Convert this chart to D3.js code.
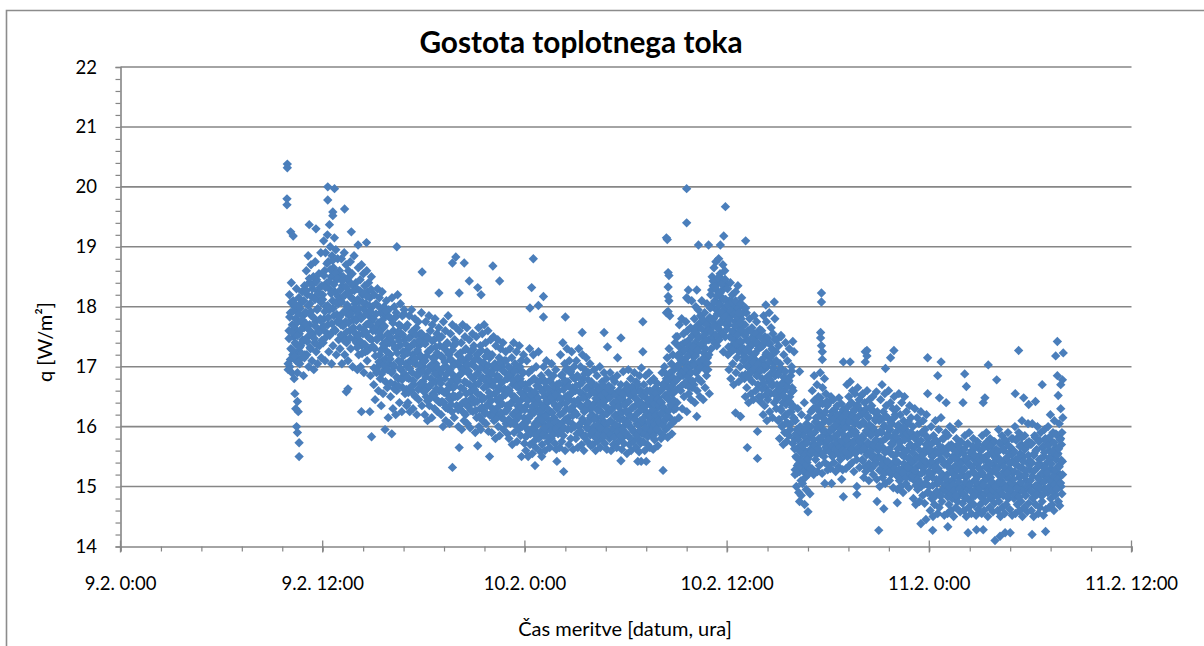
<!DOCTYPE html>
<html><head><meta charset="utf-8">
<script src="https://cdnjs.cloudflare.com/ajax/libs/d3/7.8.5/d3.min.js"></script>
<style>html,body{margin:0;padding:0;background:#fff;overflow:hidden}svg{display:block}text{font-family:Lato,sans-serif;fill:#000}</style>
</head><body><svg id="c" width="1204" height="646"></svg>
<script>
const titleText="Gostota toplotnega toka";
const xTitle="Čas meritve [datum, ura]";
const yTitle="q [W/m²]";
const yTicks=[14,15,16,17,18,19,20,21,22];
const xTicks=[0,12,24,36,48,60];
const xTickLabels=["9.2. 0:00","9.2. 12:00","10.2. 0:00","10.2. 12:00","11.2. 0:00","11.2. 12:00"];
const firstHour=10, lastHour=55.95;
// isolated readings: hours since 9.2. 0:00, and q
const soloT=[9.9,9.9,9.88,9.88,10.1,10.25,12.3,12.7,12.3,13.3,12.6,12.6,11.2,11.6,12.4,13.7,14.6,14.1,16.4,17.9,19.9,19.7,20.4,22.1,24.5,22.5,20.7,18.9,20.1,21.2,21.4,24.4,25.1,24.3,24.8,26.4,25.1,10.6,10.6,10.5,10.45,10.55,10.4,10.5,10.35,14.9,16.1,15.7,19.7,21.9,20.1,21.2,23.8,24.6,25,25.9,26.3,13.4,13.5,14.3,14.8,33.6,35.9,33.6,32.4,32.45,35.8,37.1,34.3,34.9,35.6,32.5,32.55,32.5,32.5,32.55,32.5,32.6,32.4,33.7,34.2,33.6,33.7,33.9,38.8,38.3,37.1,36.7,41.6,41.6,41.55,41.55,41.6,41.65,41.65,31,27.4,28.7,29.7,28.9,29.5,31,39.9,39.2,32.2,30.7,30.9,31.2,29.7,37.2,37.8,34.2,36.5,36.8,37.8,40.3,40.8,40.4,40.6,41.8,42.2,42.8,42.9,43.7,43.7,40.3,42.9,43.3,44.2,44.2,55.6,55.95,55.5,53.3,47.9,48.7,51.5,48.5,50.1,45.9,45.7,44.3,44.3,45.4,52,50.2,54.7,55.6,55.9,55.8,55.65,55.8,53.1,53.6,53.9,54.3,47.9,48.6,49,50,51.3,51.2,45,51.9,52.2,54.1,48.2,50.3,50.8,51.2,52.5,52.8,54.9,47.5,47.8,49.1,46.1,45.3,44.9,9.95,9.95];
const soloQ=[20.38,20.32,19.8,19.7,19.25,19.18,20,19.97,19.78,19.63,19.58,19.52,19.37,19.3,19.37,19.25,19.07,19.03,19,18.58,18.83,18.73,18.73,18.68,18.8,18.43,18.43,18.23,18.23,18.32,18.2,18.32,18.17,17.98,18.02,17.83,17.83,15.5,15.73,15.9,16.0,16.25,16.3,16.42,16.55,15.83,15.88,15.95,15.32,15.5,15.65,15.68,15.5,15.35,15.5,15.42,15.25,16.58,16.63,16.25,16.25,19.97,19.67,19.4,19.15,19.12,19.18,19.1,19.03,19.03,19.03,18.57,18.52,18.33,18.17,18.1,17.92,17.85,17.9,18.28,18.28,18.15,18.12,18.1,18.08,18.03,17.98,17.9,18.23,18.08,17.57,17.48,17.35,17.25,17.12,17.75,17.57,17.57,17.48,17.33,17.15,17.25,17.42,17.52,15.27,15.42,15.42,15.42,15.43,15.65,15.47,16.17,16.23,16.17,15.92,14.75,14.58,14.85,14.7,15.05,15.05,15.12,14.83,15,14.87,16.92,17.08,17.08,17.25,17.08,17.42,17.23,17.18,17.27,17.15,17.08,17.03,16.85,16.88,17.27,17.15,17.27,17.18,16.97,16.78,16.67,16.7,16.85,16.78,16.7,16.52,16.3,16.55,16.48,16.37,16.42,16.55,16.48,16.4,16.4,16.48,16.4,14.27,14.1,14.17,14.2,14.27,14.23,14.28,14.28,14.23,14.23,14.25,14.38,14.45,14.33,14.73,14.63,14.75,17.05,16.95];
// body of the cloud, one list per hour, in time order
const h10=[17.6,18.2,17.0,17.9,17.3,18.4,16.9,17.7,17.2,18.1,17.5,16.8,18.0,17.4,17.8,17.1,18.3,17.6,16.9,17.95,17.25,18.15,17.55,17.05,18.05,17.35,17.75,17.15,18.25,17.45,17.85,16.85,17.65,18.35,17.2,17.9];
const h11=[17.9,18.6,17.2,18.2,17.5,18.85,17.0,18.4,17.7,18.05,17.3,18.7,17.85,17.1,18.3,17.55,18.5,16.95,18.15,17.4,18.75,17.75,17.25,18.45,17.95,17.05,18.25,17.6,18.55,17.35,18.1,17.8,18.9,17.15,18.35,17.65];
const h12=[18.2,17.4,19.1,17.8,18.6,17.1,18.9,18.0,17.5,18.4,19.2,17.7,18.75,17.25,18.3,17.95,19.0,17.55,18.5,17.05,18.85,18.1,17.35,18.65,17.85,19.15,18.25,17.6,18.95,17.2,18.45,17.75,18.8,18.05,17.45,18.55];
const h13=[18.6,17.3,18.1,17.7,18.8,17.05,18.35,17.9,18.5,17.5,18.9,17.2,18.2,17.75,18.7,17.4,18.0,18.45,17.1,18.6,17.85,18.25,17.6,18.75,17.3,18.15,17.95,18.55,17.0,18.35,17.65,18.85,17.45,18.05,17.8,18.4];
const h14=[17.4,18.3,16.95,17.9,18.65,17.2,18.1,17.65,18.45,17.0,17.8,18.7,17.35,18.2,17.55,18.55,16.9,17.95,18.35,17.25,18.05,17.7,18.6,17.1,18.25,17.5,18.4,17.85,17.3,18.15,16.85,17.75,18.5,17.45,18.0,17.6];
const h15=[17.8,16.7,18.2,17.3,16.45,17.6,18.05,16.9,17.45,18.3,17.0,16.6,17.7,18.15,17.2,16.8,17.9,16.35,17.5,18.25,17.1,16.55,17.65,18.0,16.95,17.35,16.75,17.85,18.1,17.25,16.65,17.55,16.15,17.95,17.05,17.4];
const h16=[17.2,16.5,17.8,16.9,18.15,17.4,16.3,17.6,17.0,18.0,16.7,17.3,16.2,17.9,16.6,17.5,18.2,16.8,17.1,17.7,16.4,17.35,18.05,16.95,17.55,16.25,17.85,16.65,17.25,16.85,17.95,17.45,16.55,17.65,17.05,16.35];
const h17=[17.0,17.7,16.4,17.3,16.8,17.85,16.25,17.1,17.5,16.6,17.95,16.9,17.2,16.3,17.6,16.7,17.4,17.8,16.5,17.05,17.65,16.2,17.25,16.85,17.75,16.45,17.35,16.95,17.55,16.65,17.15,17.9,16.35,17.45,16.75,17.0];
const h18=[16.7,17.4,16.2,17.1,17.75,16.5,16.9,17.5,16.1,17.25,16.65,17.85,16.35,17.0,17.6,16.8,17.3,16.15,17.7,16.55,17.15,16.95,17.45,16.3,17.8,16.75,17.05,16.45,17.55,16.25,17.2,16.85,17.65,16.6,17.35,16.4];
const h19=[16.9,16.2,17.5,16.6,17.15,16.0,17.75,16.4,17.3,16.8,17.6,16.1,17.0,16.55,17.4,16.3,17.85,16.7,17.2,16.05,16.95,17.55,16.45,17.1,16.25,17.7,16.65,17.35,16.85,16.15,17.45,16.5,17.05,17.65,16.35,16.75];
const h20=[16.5,17.2,16.0,16.85,17.6,16.3,17.0,16.65,17.4,15.95,16.95,17.7,16.4,17.1,16.1,16.75,17.5,16.2,17.3,16.55,17.65,16.05,16.9,17.15,16.35,17.45,16.7,15.98,17.25,16.45,17.05,16.6,17.55,16.25,16.8,17.35];
const h21=[16.4,17.0,15.9,16.7,17.5,16.15,17.2,16.55,16.9,17.65,16.0,17.1,16.3,17.35,15.95,16.8,16.45,17.55,16.1,17.05,16.65,17.7,16.25,16.95,17.4,16.05,16.75,17.25,16.35,17.6,15.92,16.85,16.5,17.15,16.2,17.45];
const h22=[16.7,15.9,17.2,16.3,16.95,17.5,16.1,16.55,17.05,15.8,17.35,16.45,16.85,16.2,17.45,16.0,16.65,17.15,15.85,16.4,17.3,16.75,16.15,17.0,16.5,17.4,15.95,16.6,17.1,16.25,16.9,17.25,16.05,16.8,16.35,15.88];
const h23=[16.3,17.0,15.8,16.6,17.3,16.05,16.85,16.4,17.15,15.7,16.7,16.2,17.4,15.9,16.5,17.05,16.1,16.75,17.25,15.75,16.35,16.95,15.95,16.65,17.35,16.25,16.8,15.85,17.1,16.45,16.0,16.9,16.55,17.2,16.15,15.72];
const h24=[16.0,16.7,15.6,16.35,17.1,15.85,16.5,15.5,16.9,16.15,17.3,15.7,16.6,16.25,15.95,16.95,15.55,16.45,17.2,15.75,16.8,16.05,16.55,15.65,17.0,16.3,15.9,16.75,16.1,17.25,15.8,16.4,16.65,15.58,16.2,16.85];
const h25=[16.3,15.7,16.8,16.05,17.0,15.85,16.5,15.6,16.65,16.2,17.1,15.95,16.4,15.75,16.9,16.1,16.55,15.65,16.75,16.25,15.8,17.05,16.0,16.45,15.9,16.85,16.15,16.6,15.72,16.35,16.95,15.62,16.7,16.08,16.48,15.88];
const h26=[15.9,16.6,15.65,16.2,17.2,16.0,16.85,15.75,16.4,17.4,15.85,16.7,16.1,17.05,15.6,16.5,16.95,16.3,17.3,15.95,16.75,16.15,15.7,17.1,16.45,16.9,15.8,16.55,17.25,16.05,16.65,15.62,16.35,17.0,16.25,16.8];
const h27=[16.6,15.8,17.1,16.2,16.85,15.65,16.45,17.3,16.0,16.7,15.9,17.0,16.35,15.7,16.55,17.2,16.1,16.8,15.6,16.25,16.95,15.85,16.5,17.15,16.05,16.65,15.75,16.4,16.9,15.95,16.3,17.05,16.15,15.68,16.75,16.6];
const h28=[16.2,15.7,16.7,16.0,16.95,15.85,16.4,15.6,16.55,16.15,16.85,15.75,16.3,15.95,16.65,16.05,17.0,15.65,16.45,16.25,15.8,16.75,16.1,16.5,15.9,16.9,16.35,15.72,16.6,16.02,16.8,15.62,16.22,16.48,15.88,16.68];
const h29=[16.5,15.8,16.9,16.1,15.6,16.65,16.3,15.95,16.8,15.7,16.4,16.05,16.75,15.85,16.2,16.55,15.65,16.85,16.15,16.45,15.75,16.6,16.0,16.35,15.9,16.7,16.25,15.62,16.5,15.82,16.92,16.12,15.72,16.42,16.02,16.62];
const h30=[16.1,16.7,15.55,16.4,15.85,16.95,16.2,15.7,16.55,16.0,16.8,15.6,16.3,15.95,16.65,16.15,15.75,16.5,16.9,15.9,16.35,15.65,16.75,16.05,16.45,15.8,16.6,16.25,15.58,16.85,16.1,15.72,16.4,16.98,15.88,16.52];
const h31=[16.3,15.75,16.7,16.05,15.6,16.5,16.85,15.9,16.2,16.6,15.7,16.4,15.95,16.9,16.15,15.65,16.75,16.0,16.35,15.85,16.55,16.25,15.62,16.8,16.1,15.78,16.45,16.65,15.92,16.3,16.02,16.72,15.68,16.48,16.18,16.58];
const h32=[16.2,15.9,16.6,15.8,16.4,16.9,16.05,16.7,15.85,16.3,17.0,16.1,16.5,15.95,16.8,16.25,17.15,15.82,16.65,16.0,17.3,16.45,16.15,16.85,16.35,17.05,15.88,16.55,17.2,16.75,16.28,16.95,16.1,17.4,16.6,17.5];
const h33=[17.0,16.4,17.5,16.8,17.2,16.15,17.7,16.95,17.35,16.6,17.1,17.8,16.3,17.25,16.85,17.55,16.5,17.05,17.4,16.7,17.75,17.15,16.25,17.6,16.9,17.3,16.55,17.45,17.0,16.75,17.65,16.45,17.2,16.65,17.52,17.08];
const h34=[17.2,16.7,17.8,16.4,17.4,18.0,16.9,17.55,16.6,17.25,17.95,16.8,17.65,17.05,16.5,17.85,17.35,16.75,18.1,17.1,17.5,16.45,17.75,17.0,17.9,16.65,17.3,17.6,16.85,18.05,17.15,16.95,17.7,17.45,16.55,17.82];
const h35=[17.6,18.2,17.3,18.0,18.5,17.5,18.35,17.8,18.65,17.4,18.1,17.7,18.75,17.95,17.35,18.4,17.65,18.25,18.8,17.45,18.05,18.55,17.75,18.15,17.55,18.45,17.85,18.7,17.25,18.3,17.9,18.6,17.5,18.12,17.72,18.38];
const h36=[17.9,18.3,17.2,17.7,16.95,18.1,17.5,18.4,16.8,17.85,17.35,18.2,17.05,17.6,16.7,18.0,17.45,17.75,18.25,16.9,17.55,17.15,17.95,18.35,17.3,16.75,17.65,18.05,17.0,17.4,17.8,18.15,16.85,17.25,17.7,17.1];
const h37=[17.3,16.8,17.7,16.5,17.15,17.9,16.65,17.45,17.0,17.6,16.4,17.25,17.8,16.9,17.35,16.55,17.05,17.65,16.75,17.5,16.45,17.2,17.85,16.95,17.4,16.6,17.1,17.75,16.85,17.55,16.7,17.3,16.5,17.0,17.62,16.42];
const h38=[17.1,16.5,17.6,16.8,17.35,16.2,17.85,16.95,16.35,17.5,16.65,17.2,17.75,16.1,17.0,16.45,17.4,16.75,17.9,16.25,17.15,16.55,17.65,16.9,17.3,16.15,17.55,16.7,17.05,16.4,17.8,16.85,17.25,16.3,17.45,16.6];
const h39=[16.9,16.1,17.35,16.55,15.8,17.05,16.3,17.5,16.7,16.0,16.95,16.4,15.7,17.2,16.6,15.9,16.8,17.4,16.2,15.75,16.45,17.1,16.05,16.75,15.85,17.3,16.5,15.95,16.85,16.25,17.0,16.65,15.72,16.35,16.15,17.25];
const h40=[15.8,15.2,16.1,15.5,15.0,15.95,15.35,16.3,15.65,14.9,15.85,15.25,16.0,15.45,15.1,16.2,15.7,15.05,15.55,15.9,15.3,16.4,15.6,15.15,15.75,14.95,16.05,15.4,15.2,16.15,15.5,15.82,15.28,14.88,15.62,16.25];
const h41=[16.0,15.3,16.6,15.7,16.3,15.2,16.85,15.9,16.45,15.45,16.15,15.6,16.7,15.25,16.05,16.5,15.8,15.35,16.25,16.9,15.55,16.4,15.95,15.22,16.65,15.75,16.2,15.5,16.8,15.4,16.1,16.55,15.65,15.85,16.35,15.28];
const h42=[15.9,15.35,16.4,15.65,16.1,15.3,16.5,15.8,16.25,15.5,15.95,16.45,15.4,16.0,15.7,16.3,15.25,16.15,15.85,16.35,15.55,16.05,15.33,16.48,15.75,16.2,15.45,15.92,16.38,15.62,16.02,15.28,16.28,15.72,16.12,15.52];
const h43=[15.7,16.3,15.3,16.0,16.7,15.5,16.2,15.85,16.5,15.35,16.1,16.75,15.6,15.95,16.4,15.4,16.6,15.75,16.25,15.25,16.05,16.55,15.55,15.9,16.35,15.45,16.15,16.65,15.65,15.8,16.45,15.32,16.02,16.28,15.72,16.52];
const h44=[16.2,15.45,16.55,15.8,15.15,16.05,16.4,15.6,15.25,16.3,15.9,16.6,15.35,15.7,16.15,15.1,16.45,15.55,16.0,15.85,15.3,16.35,15.65,16.5,15.2,15.95,16.25,15.5,15.75,16.1,15.4,16.58,15.12,15.88,16.18,15.62];
const h45=[15.5,16.1,15.0,15.75,16.45,15.3,15.9,16.7,15.15,15.65,16.25,15.45,16.0,16.55,15.05,15.8,16.35,15.25,15.6,16.15,15.4,16.6,15.85,15.1,15.95,16.4,15.55,15.2,16.05,15.7,16.3,14.98,15.35,16.5,15.78,16.2];
const h46=[15.9,15.2,16.3,15.55,14.95,16.0,15.4,16.55,15.1,15.75,16.2,15.0,15.65,16.4,15.3,15.85,14.9,16.1,15.5,16.5,15.25,15.95,15.05,16.25,15.6,15.35,16.05,15.8,14.98,15.45,16.35,15.15,15.7,16.15,15.28,15.88];
const h47=[15.4,16.0,14.8,15.65,15.1,16.3,15.3,14.7,15.85,15.5,16.15,14.95,15.75,15.2,16.05,14.75,15.6,15.35,16.25,15.0,15.9,15.45,14.85,16.1,15.55,15.25,14.72,15.95,15.05,15.7,16.2,15.38,14.9,15.8,15.15,15.58];
const h48=[15.0,15.7,14.6,15.35,16.0,14.8,15.5,15.15,14.5,15.85,15.25,14.7,15.6,16.1,14.9,15.4,15.05,15.75,14.55,15.3,15.95,14.65,15.55,15.1,14.85,16.15,15.45,14.75,15.65,15.2,14.95,15.8,14.52,15.38,15.02,15.9];
const h49=[15.6,14.9,15.2,14.55,15.85,15.4,14.7,15.05,16.0,15.3,14.6,15.7,15.1,14.8,15.5,15.95,14.5,15.25,14.95,15.65,15.35,14.65,15.8,15.0,14.75,15.45,16.05,15.15,14.85,15.55,14.58,15.28,15.75,14.98,15.42,14.72];
const h50=[15.0,15.55,14.6,15.3,15.85,14.8,15.15,14.5,15.7,15.4,14.95,15.2,14.65,15.9,15.05,15.5,14.75,15.35,14.55,15.6,14.9,15.25,15.8,14.7,15.45,15.1,14.85,15.65,14.52,15.0,15.38,15.75,14.62,15.18,14.92,15.52];
const h51=[15.3,14.7,15.6,15.05,14.55,15.85,15.2,14.85,15.45,14.6,15.7,15.1,14.75,15.5,15.9,14.95,15.3,14.5,15.65,15.0,15.4,14.65,15.8,15.15,14.8,15.55,14.9,15.25,14.58,15.75,15.35,14.72,15.02,15.48,14.88,15.62];
const h52=[14.9,15.5,14.6,15.2,15.95,14.75,15.35,15.0,14.5,15.7,15.1,15.85,14.65,15.4,14.85,15.6,15.25,14.55,15.0,15.75,14.7,15.45,15.15,14.95,15.9,14.8,15.3,15.55,14.62,15.05,15.65,14.9,15.8,14.52,15.22,15.42];
const h53=[15.6,14.8,15.25,16.0,14.55,15.45,15.0,15.8,14.7,15.35,14.9,15.9,15.15,14.6,15.55,15.05,14.75,15.7,16.1,14.5,15.3,14.95,15.5,14.65,15.85,15.2,14.85,15.65,15.1,14.58,15.4,16.05,14.72,15.75,15.02,15.28];
const h54=[15.1,15.7,14.6,15.4,16.05,14.8,15.25,14.5,15.55,15.85,15.0,14.7,15.6,15.3,14.9,16.0,15.15,14.55,15.75,15.45,14.65,15.05,15.9,14.85,15.35,14.75,15.65,15.2,14.52,15.5,15.95,14.95,15.8,14.62,15.28,15.12];
const h55=[15.4,14.9,16.0,15.15,14.65,15.6,15.0,16.2,14.8,15.3,15.75,14.7,15.5,15.9,15.1,14.6,16.1,15.25,14.85,15.65,15.45,14.95,15.85,15.05,15.55,14.75,15.35,16.05,14.68,15.2,15.8,15.0,15.7,14.88,15.42,16.15];
// denser readings in the middle of the cloud, one list per hour
const k10=[17.47,17.83,17.12,18.07,17.58,17.28,17.93,17.68,17.17,18.03,17.38,17.73,17.52,17.07,17.88,17.32,17.97,17.62,17.22,17.78,17.42,18.1,17.15,17.7];
const k11=[17.72,18.27,17.42,18.02,17.62,18.47,17.32,17.92,18.17,17.52,18.37,17.82,17.47,18.12,17.67,18.42,17.37,17.97,18.22,17.57,18.32,17.77,18.07,17.44];
const k12=[18.12,17.67,18.52,17.92,18.32,17.57,18.72,18.02,17.82,18.42,17.52,18.62,18.22,17.72,18.77,17.97,18.37,17.62,18.57,18.07,17.87,18.47,18.17,17.77];
const k13=[17.83,18.28,17.53,18.08,18.43,17.68,18.18,17.43,17.93,18.33,17.58,18.03,18.48,17.73,18.23,17.48,17.88,18.38,17.63,18.13,17.78,18.27,17.98,17.55];
const k14=[17.77,17.32,18.12,17.52,17.97,18.27,17.42,17.82,17.22,18.07,17.62,18.22,17.37,17.87,17.57,18.17,17.27,17.72,18.02,17.47,17.92,18.29,17.67,17.34];
const k15=[17.33,16.98,17.63,17.18,17.88,16.93,17.48,17.73,17.08,17.58,17.98,17.28,16.88,17.78,17.38,17.03,17.68,17.13,17.93,17.43,16.95,17.53,17.23,17.83];
const k16=[17.13,16.73,17.48,16.93,17.73,17.03,16.63,17.33,17.83,16.83,17.23,17.58,16.68,17.43,16.98,17.68,17.08,16.78,17.53,17.18,17.88,16.88,17.38,16.62];
const k17=[16.82,17.23,16.57,17.48,16.97,17.33,16.67,17.58,17.08,16.77,17.38,16.52,17.13,17.53,16.87,17.28,16.62,17.43,17.03,16.72,17.18,17.55,16.92,16.6];
const k18=[17.08,16.58,17.38,16.83,17.18,16.43,17.48,16.93,16.68,17.28,16.48,17.03,17.43,16.73,17.13,16.53,16.88,17.33,16.63,17.23,16.98,16.42,17.47,16.78];
const k19=[16.72,17.18,16.42,16.97,17.33,16.57,17.08,16.32,16.87,17.38,16.62,17.23,16.47,16.92,17.13,16.37,16.77,17.28,16.52,17.03,16.67,16.82,17.39,16.34];
const k20=[16.78,16.28,17.08,16.53,17.23,16.88,16.38,17.13,16.63,16.23,16.98,17.28,16.43,16.73,17.03,16.33,16.93,17.18,16.58,16.27,16.83,16.48,17.29,16.68];
const k21=[16.62,17.12,16.27,16.87,16.42,17.22,16.72,16.17,16.97,16.52,17.27,16.32,16.82,17.07,16.47,16.22,17.17,16.67,16.92,16.37,17.02,16.57,16.19,16.77];
const k22=[16.43,16.88,16.18,16.68,17.03,16.28,16.78,16.13,16.58,16.98,16.33,16.83,16.48,17.08,16.23,16.73,16.38,16.93,16.12,16.63,16.53,17.1,16.26,16.8];
const k23=[16.62,16.12,16.87,16.37,16.97,16.07,16.52,16.77,16.22,16.92,16.47,16.02,16.67,16.27,16.82,16.42,16.17,17.0,16.57,16.32,16.72,16.04,16.9,16.49];
const k24=[16.28,15.83,16.63,16.08,16.43,15.93,16.73,16.18,15.88,16.53,16.33,16.78,15.98,16.23,16.58,15.86,16.38,16.68,16.03,16.48,16.13,16.75,15.91,16.26];
const k25=[16.12,16.58,15.88,16.33,15.98,16.73,16.18,16.43,15.83,16.63,16.28,16.03,16.78,15.93,16.48,16.23,15.86,16.68,16.38,16.08,16.53,15.96,16.3,16.7];
const k26=[16.33,16.72,16.03,16.47,15.93,16.87,16.23,16.62,15.98,16.77,16.38,16.13,16.97,16.52,16.08,16.67,16.28,16.92,15.96,16.57,16.18,16.82,16.42,16.0];
const k27=[16.22,16.68,15.88,16.43,16.83,16.03,16.58,15.93,16.33,16.73,16.13,16.48,15.83,16.88,16.28,16.63,15.98,16.38,16.78,16.08,16.53,15.86,16.18,16.7];
const k28=[16.32,15.92,16.58,16.12,15.82,16.47,16.68,16.02,16.27,15.87,16.62,16.37,15.97,16.52,16.17,16.7,15.84,16.42,16.07,16.57,16.22,15.94,16.64,16.3];
const k29=[16.07,16.48,15.87,16.28,16.58,15.97,16.38,15.82,16.18,16.53,16.02,16.43,15.92,16.33,16.6,16.12,15.85,16.48,16.23,15.95,16.55,16.1,16.36,15.9];
const k30=[16.27,15.87,16.62,16.07,16.42,15.82,16.52,16.17,15.97,16.67,16.32,15.92,16.57,16.12,16.47,15.85,16.22,16.7,16.02,16.37,15.94,16.6,16.28,16.09];
const k31=[16.13,16.52,15.88,16.33,15.98,16.58,16.23,15.83,16.43,16.08,16.6,16.18,15.93,16.48,16.28,15.85,16.38,16.03,16.55,16.2,15.96,16.46,16.11,16.36];
const k32=[16.07,16.42,16.22,16.62,16.02,16.33,16.72,16.12,16.52,16.88,16.17,16.47,16.77,16.27,16.57,16.9,16.37,16.68,16.06,16.82,16.44,16.58,16.75,16.3];
const k33=[16.78,17.18,16.63,17.03,17.33,16.88,17.23,16.68,17.13,17.38,16.93,17.28,16.73,17.08,16.98,17.4,16.83,17.2,16.66,17.35,17.0,16.9,17.26,16.76];
const k34=[17.33,17.03,17.58,17.18,16.93,17.68,17.28,17.48,17.08,17.73,16.98,17.38,17.63,17.13,17.78,17.23,17.53,16.95,17.43,17.7,17.06,17.6,17.2,17.8];
const k35=[17.98,17.58,18.28,17.78,18.43,17.68,18.08,18.33,17.53,18.18,17.88,18.48,17.63,18.03,18.23,17.73,18.38,17.93,17.56,18.13,17.83,18.46,18.0,17.7];
const k36=[17.63,18.03,17.33,17.78,17.23,17.93,17.48,18.08,17.58,17.28,17.88,17.68,18.1,17.38,17.83,17.53,17.98,17.25,17.73,17.43,18.05,17.6,17.3,17.9];
const k37=[17.17,17.52,16.87,17.27,17.57,17.02,17.42,16.82,17.32,17.12,17.6,16.92,17.37,17.07,17.47,16.97,17.22,17.55,16.85,17.4,17.04,17.3,16.94,17.5];
const k38=[16.93,17.33,16.63,17.13,16.73,17.43,17.03,16.53,17.23,16.83,17.48,16.58,17.08,17.38,16.78,17.18,16.68,17.28,16.98,16.55,17.45,16.88,17.1,16.7];
const k39=[16.47,16.87,16.12,16.62,16.97,16.27,16.72,16.02,16.52,16.82,16.17,16.92,16.37,16.07,16.67,16.22,16.77,16.42,16.04,16.57,16.93,16.32,16.6,16.14];
const k40=[15.63,15.28,15.88,15.48,15.23,15.78,15.38,15.93,15.58,15.33,15.98,15.43,15.68,15.25,15.83,15.53,15.96,15.36,15.73,15.46,15.21,15.9,15.56,15.3];
const k41=[15.88,15.58,16.28,15.78,16.43,15.68,16.08,15.53,16.33,15.98,15.63,16.18,15.73,16.48,16.03,15.83,16.38,15.56,16.13,15.93,16.25,15.66,16.42,15.76];
const k42=[15.78,16.08,15.58,15.93,16.18,15.68,15.98,15.53,16.13,15.83,15.63,16.03,15.73,16.2,15.88,15.56,16.1,15.66,15.96,15.76,16.15,15.6,15.86,16.06];
const k43=[15.98,15.58,16.23,15.78,16.33,15.68,16.08,15.53,16.38,15.88,15.63,16.18,15.73,16.28,15.93,15.56,16.13,15.83,16.36,15.66,16.03,15.76,16.2,15.6];
const k44=[15.83,15.43,16.08,15.63,16.23,15.33,15.93,15.53,16.18,15.73,15.38,16.03,15.58,16.28,15.88,15.48,15.98,15.68,15.36,16.13,15.78,15.46,16.25,15.6];
const k45=[15.67,15.27,15.92,15.47,16.12,15.37,15.77,15.22,16.02,15.57,16.17,15.32,15.87,15.42,15.97,15.62,15.25,16.07,15.72,15.35,15.82,15.52,16.15,15.3];
const k46=[15.43,15.83,15.18,15.63,16.03,15.28,15.73,15.13,15.93,15.53,15.23,15.98,15.38,15.78,15.58,15.15,15.88,15.33,16.08,15.48,15.68,15.2,15.9,15.42];
const k47=[15.57,15.17,15.82,15.27,15.67,15.02,15.47,15.87,15.12,15.72,15.37,15.07,15.77,15.22,15.52,15.9,15.32,15.04,15.62,15.42,15.84,15.14,15.7,15.24];
const k48=[15.22,15.62,14.87,15.42,15.72,15.02,15.52,14.82,15.32,15.77,15.12,14.92,15.57,15.27,15.07,15.67,14.84,15.47,15.17,15.8,14.97,15.37,15.6,15.04];
const k49=[15.13,15.53,14.83,15.33,15.68,14.98,15.43,14.88,15.23,15.63,15.03,14.93,15.48,15.18,14.85,15.58,15.28,15.7,15.08,14.96,15.38,15.64,14.9,15.2];
const k50=[15.27,14.87,15.62,15.07,15.47,14.82,15.17,15.72,14.97,15.37,15.02,15.57,14.92,15.32,15.67,14.84,15.22,15.52,15.12,14.95,15.42,15.7,15.04,15.3];
const k51=[14.97,15.43,14.82,15.23,15.63,15.03,15.48,14.87,15.33,15.73,15.13,14.92,15.53,15.18,14.84,15.38,15.68,15.08,14.95,15.58,15.28,15.75,15.0,15.44];
const k52=[15.28,14.83,15.58,15.08,15.73,14.93,15.43,15.18,14.88,15.63,15.33,15.03,15.78,14.98,15.48,15.23,14.85,15.68,15.13,15.38,14.95,15.53,15.06,15.8];
const k53=[15.12,15.57,14.87,15.37,15.77,14.97,15.47,15.22,14.82,15.67,15.07,15.32,15.82,14.92,15.42,15.17,15.62,14.85,15.27,15.72,15.02,15.52,14.95,15.36];
const k54=[15.42,14.92,15.72,15.17,14.82,15.52,15.27,15.82,15.02,15.62,14.87,15.37,15.12,15.77,14.97,15.47,15.22,14.85,15.67,15.07,15.57,15.32,14.95,15.75];
const k55=[15.23,15.68,14.98,15.48,15.83,15.08,15.38,14.93,15.58,15.18,15.73,15.03,15.28,15.88,14.96,15.53,15.13,15.63,15.33,15.78,15.06,15.44,15.9,15.2];
const hourlyQ=[h10,h11,h12,h13,h14,h15,h16,h17,h18,h19,h20,h21,h22,h23,h24,h25,h26,h27,h28,h29,h30,h31,h32,h33,h34,h35,h36,h37,h38,h39,h40,h41,h42,h43,h44,h45,h46,h47,h48,h49,h50,h51,h52,h53,h54,h55];
const hourlyCore=[k10,k11,k12,k13,k14,k15,k16,k17,k18,k19,k20,k21,k22,k23,k24,k25,k26,k27,k28,k29,k30,k31,k32,k33,k34,k35,k36,k37,k38,k39,k40,k41,k42,k43,k44,k45,k46,k47,k48,k49,k50,k51,k52,k53,k54,k55];

const points=[];
[hourlyQ,hourlyCore].forEach(rows=>rows.forEach((row,i)=>{
  const h=firstHour+i, end=Math.min(h+1,lastHour);
  row.forEach((q,j)=>points.push({t:h+(end-h)*j/row.length,q}));
}));
soloT.forEach((t,i)=>points.push({t,q:soloQ[i]}));

const svg=d3.select("#c");
const GRID="#868686";
svg.append("path").attr("d","M6.5,646V10.5H1204").attr("fill","none").attr("stroke","#8c8c8c").attr("stroke-width",1.6);
const x=d3.scaleLinear().domain([0,60]).range([120.5,1131.5]);
const y=d3.scaleLinear().domain([14,22]).range([546.5,67]);

svg.append("g").selectAll("line").data(yTicks.slice(1)).join("line")
  .attr("x1",x(0)).attr("x2",x(60)).attr("y1",d=>y(d)).attr("y2",d=>y(d))
  .attr("stroke",GRID).attr("stroke-width",1.6);

const axY=svg.append("g").attr("transform",`translate(${x(0)},0)`)
  .call(d3.axisLeft(y).tickValues(d3.range(14,22.01,0.2)).tickSize(5).tickFormat(""));
const axX=svg.append("g").attr("transform",`translate(0,${y(14)})`)
  .call(d3.axisBottom(x).tickValues(d3.range(0,60.01,2.4)).tickSize(5).tickFormat(""));
[axX,axY].forEach(a=>{a.selectAll("path").attr("stroke",GRID).attr("stroke-width",1.6);a.selectAll("line").attr("stroke",GRID).attr("stroke-width",1.2);});
svg.append("g").selectAll("line").data(xTicks).join("line")
  .attr("x1",d=>x(d)).attr("x2",d=>x(d)).attr("y1",y(14)-6).attr("y2",y(14)+6)
  .attr("stroke",GRID).attr("stroke-width",1.3);

svg.append("g").selectAll("path").data(points).join("path")
  .attr("d",d3.symbol().type(d3.symbolSquare).size(44))
  .attr("transform",d=>`translate(${x(d.t)},${y(d.q)}) rotate(45)`)
  .attr("fill","#4a7ebb");

svg.append("g").selectAll("text").data(yTicks).join("text")
  .attr("x",97).attr("y",d=>y(d)+6.5).attr("text-anchor","end").attr("font-size",18.5).text(d=>d);
svg.append("g").selectAll("text").data(xTicks).join("text")
  .attr("x",d=>x(d)).attr("y",590).attr("text-anchor","middle").attr("font-size",18.5).text((d,i)=>xTickLabels[i]);
svg.append("text").attr("x",581).attr("y",53).attr("text-anchor","middle").attr("font-size",29.8).attr("font-weight",700).text(titleText);
svg.append("text").attr("x",625).attr("y",636).attr("text-anchor","middle").attr("font-size",20).text(xTitle);
svg.append("text").attr("transform","translate(52,342) rotate(-90)").attr("text-anchor","middle").attr("font-size",20).text(yTitle);
</script></body></html>
